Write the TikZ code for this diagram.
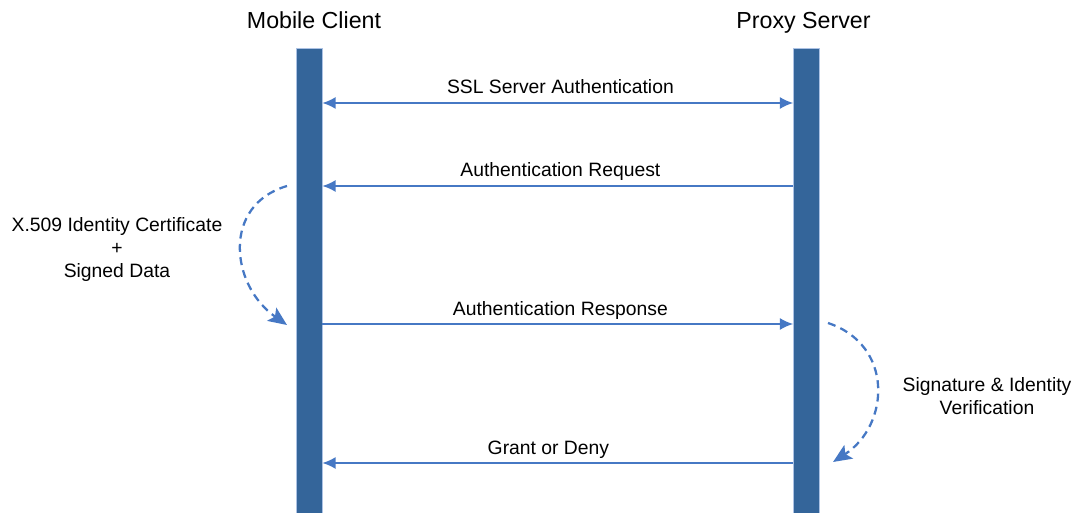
\documentclass[tikz,border=0pt]{standalone}
\usepackage{fontspec}
\setmainfont{Liberation Sans}
\usetikzlibrary{arrows.meta,positioning,calc}
\definecolor{barblue}{RGB}{52,101,154}
\definecolor{msgblue}{RGB}{70,120,196}

\begin{document}
\begin{tikzpicture}[x=0.75pt,y=-0.75pt,
    bar_node/.style ={rectangle, draw=msgblue!45, line width=0.4pt, fill=barblue,
      minimum width=19.5pt, minimum height=348.75pt, inner sep=0pt},
    block_title/.style ={rectangle, draw=none, inner sep=0pt, anchor=base,
      font={\fontsize{17.4pt}{20pt}\selectfont}},
    block_label/.style ={rectangle, draw=none, inner sep=0pt, align=center,
      font={\fontsize{14.5pt}{17.25pt}\selectfont}},
    msg_label/.style ={anchor=base, inner sep=0pt, yshift=6.75pt, text=black,
      font={\fontsize{14.5pt}{17pt}\selectfont}},
    paths2/.style={msgblue, draw, line width=1.4pt,
      arrows={-Latex[length=10pt, width=9pt]}},
    paths2_both/.style={arrows={Latex[length=10pt, width=9pt]-Latex[length=10pt, width=9pt]}},
    paths_dash/.style={msgblue, draw, line width=1.7pt, dash pattern=on 6pt off 4pt,
      arrows={-Stealth[length=14pt, width=12pt, inset=3pt]}}]
    \useasboundingbox (0,0) rectangle (1077,513);
    % lifelines
    \node[bar_node] (client) at (309,280.5) {};
    \node[bar_node] (proxy) at (806.5,280.5) {};
    \node[block_title] (client_t) at (314,28.5) {Mobile Client};
    \node[block_title] (proxy_t) at (803.5,28.5) {Proxy Server};
    % end points on the lifelines
    \coordinate (c1) at (client.east |- 0,103);
    \coordinate (p1) at (proxy.west |- 0,103);
    \coordinate (c2) at (client.east |- 0,186);
    \coordinate (p2) at (proxy.west |- 0,186);
    \coordinate (c3) at (client.east |- 0,324);
    \coordinate (p3) at (proxy.west |- 0,324);
    \coordinate (c4) at (client.east |- 0,463);
    \coordinate (p4) at (proxy.west |- 0,463);
    % messages
    \begin{scope}[every path/.style=paths2]
      \path[paths2_both] (c1) -- node[msg_label, xshift=2pt] (m1) {SSL Server Authentication} (p1);
      \path (p2) -- node[msg_label, xshift=2pt] (m2) {Authentication Request} (c2);
      \path (c3) -- node[msg_label, xshift=2pt] (m3) {Authentication Response} (p3);
      \path (p4) -- node[msg_label, xshift=-7pt] (m4) {Grant or Deny} (c4);
    \end{scope}
    % local steps
    \coordinate (l1) at (287,186);
    \coordinate (l2) at (287,325);
    \coordinate (r1) at (828,323);
    \coordinate (r2) at (833,462);
    \path[paths_dash] (l1) .. controls (222,205) and (230,285) .. (l2);
    \path[paths_dash] (r1) .. controls (894,345) and (890,425) .. (r2);
    \node[block_label] (cert) at (117,250) {X.509 Identity Certificate\\ +\\ Signed Data};
    \node[block_label] (verify) at (987,396.5) {Signature \& Identity\\ Verification};
  \end{tikzpicture}
\end{document}
